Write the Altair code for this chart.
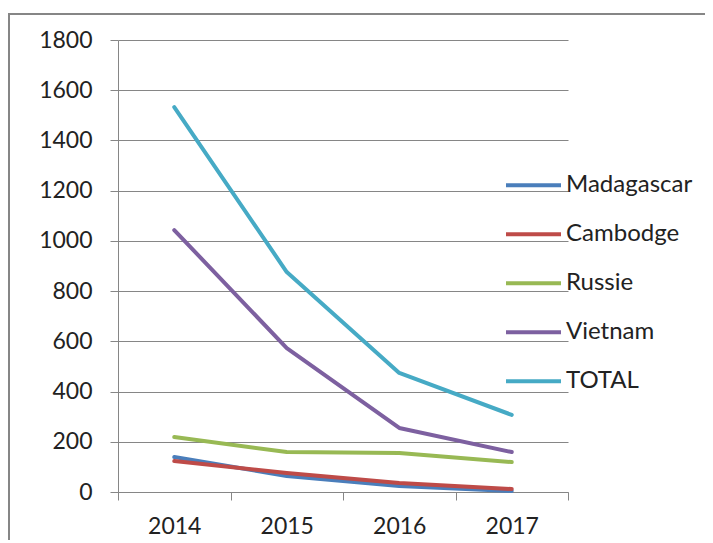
import altair as alt
import pandas as pd

years = ["2014", "2015", "2016", "2017"]
series_names = ["Madagascar", "Cambodge", "Russie", "Vietnam", "TOTAL"]
madagascar = [139, 64, 24, 4]
cambodge = [123, 76, 36, 12]
russie = [219, 159, 155, 119]
vietnam = [1043, 573, 255, 159]
total = [1533, 876, 474, 307]
colors = ["#4A7EBB", "#BE4B48", "#98B954", "#7D60A0", "#46AAC5"]

values = [madagascar, cambodge, russie, vietnam, total]
rows = []
for i, (name, vals) in enumerate(zip(series_names, values)):
    for y, v in zip(years, vals):
        rows.append({"Année": y, "Pays": name, "Valeur": v, "ordre": i})
df = pd.DataFrame(rows)

FONT = "Lato"
GRAY = "#868686"

lines = alt.Chart(df).mark_line(strokeWidth=4, strokeCap="round", strokeJoin="round").encode(
    x=alt.X("Année:N", sort=years, bandPosition=0.5,
            scale=alt.Scale(paddingInner=0, paddingOuter=0),
            axis=alt.Axis(title=None, tickBand="extent", labelAngle=0, tickSize=8,
                          labelPadding=15, domainColor=GRAY, tickColor=GRAY,
                          labelFont=FONT, labelFontSize=23, labelColor="#222222")),
    y=alt.Y("Valeur:Q", scale=alt.Scale(domain=[0, 1800], nice=False),
            axis=alt.Axis(title=None, values=list(range(0, 1801, 200)), format="d",
                          tickSize=8, labelPadding=18, domainColor=GRAY, tickColor=GRAY,
                          grid=True, gridColor=GRAY, gridWidth=1,
                          labelFont=FONT, labelFontSize=23, labelColor="#222222")),
    color=alt.Color("Pays:N", sort=series_names,
                    scale=alt.Scale(domain=series_names, range=colors),
                    legend=alt.Legend(title=None, orient="none", legendX=386, legendY=121,
                                      symbolType="stroke", symbolSize=3025,
                                      symbolStrokeWidth=4, labelFont=FONT,
                                      labelFontSize=24, labelColor="#222222",
                                      labelOffset=3, rowPadding=0, clipHeight=48.7)),
    order=alt.Order("ordre:Q"),
    detail="Pays:N",
)

frame = pd.DataFrame({"a": [0]})
border_left = alt.Chart(frame).mark_rule(stroke=GRAY, strokeWidth=2).encode(
    x=alt.value(-109), y=alt.value(-27), y2=alt.value(500)
)
border_top = alt.Chart(frame).mark_rule(stroke=GRAY, strokeWidth=2).encode(
    x=alt.value(-110), x2=alt.value(587), y=alt.value(-26)
)

chart = alt.layer(border_left, border_top, lines).properties(
    width=450, height=452,
    padding={"left": 110, "top": 32, "right": 137, "bottom": 48},
    autosize=alt.AutoSizeParams(type="none"),
).configure_view(stroke=None)

chart.save("out.html", embed_options={"renderer": "svg", "actions": False})
